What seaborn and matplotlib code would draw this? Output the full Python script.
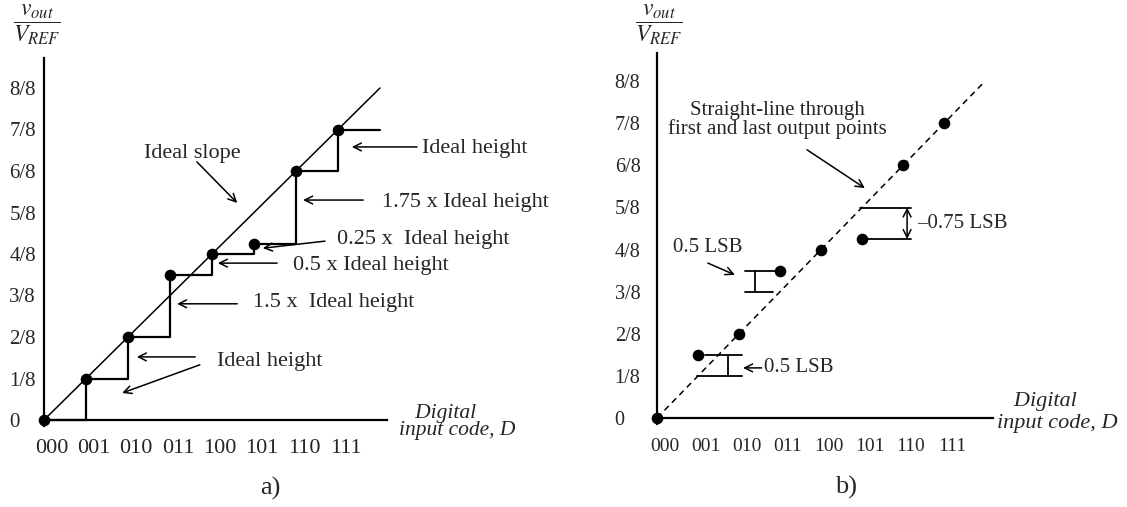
import matplotlib
matplotlib.use("Agg")
import matplotlib.pyplot as plt
import matplotlib.transforms as mtransforms
import seaborn as sns
import pandas as pd
import numpy as np

# 3-bit DAC transfer characteristics, output levels in LSB (1 LSB = VREF/8)
codes = ["000", "001", "010", "011", "100", "101", "110", "111"]
levels_a = [0, 1, 2, 3.5, 4, 4.25, 6, 7]      # panel a) staircase outputs
levels_b = [0, 1.5, 2, 3.5, 4, 4.25, 6, 7]    # panel b) output points
ytick_labels = ["0", "1/8", "2/8", "3/8", "4/8", "5/8", "6/8", "7/8", "8/8"]
full_scale = 8

sns.set_style("white")
plt.rcParams["font.family"] = ["Liberation Serif", "DejaVu Serif"]
plt.rcParams["mathtext.fontset"] = "stix"

W, H = 1127, 507
fig = plt.figure(figsize=(W / 100, H / 100), dpi=100)


def place_axes(x0_px, y0_px, sx, sy, xlim, ylim):
    """Create axes whose data origin lands at pixel (x0_px, y0_px)."""
    left = x0_px + xlim[0] * sx
    width = (xlim[1] - xlim[0]) * sx
    top = y0_px - ylim[1] * sy
    height = (ylim[1] - ylim[0]) * sy
    ax = fig.add_axes([left / W, 1 - (top + height) / H, width / W, height / H])
    ax.set_xlim(*xlim)
    ax.set_ylim(*ylim)
    ax.patch.set_alpha(0)
    return ax


def style_axes(ax, ytop, xright, ylab_pad, xlab_pad, ytick_len, xtick_len,
               ysize, xsize):
    for s in ["top", "right"]:
        ax.spines[s].set_visible(False)
    for s in ["left", "bottom"]:
        ax.spines[s].set_position(("data", 0))
        ax.spines[s].set_color("black")
        ax.spines[s].set_linewidth(1.6)
    ax.spines["left"].set_bounds(-0.15, ytop)
    ax.spines["bottom"].set_bounds(0, xright)
    ax.set_xticks(range(len(codes)))
    ax.set_xticklabels(codes)
    ax.set_yticks(range(len(ytick_labels)))
    ax.set_yticklabels(ytick_labels)
    ax.tick_params(axis="y", direction="inout", length=ytick_len, width=1.4,
                   color="black", labelsize=ysize, pad=ylab_pad)
    ax.tick_params(axis="x", direction="inout", length=xtick_len, width=1.2,
                   color="black", labelsize=xsize, pad=xlab_pad)
    for lab in ax.get_yticklabels():
        lab.set_horizontalalignment("left")
    # code labels sit slightly right of their tick marks
    shift = mtransforms.ScaledTranslation(8 / 100, 0, fig.dpi_scale_trans)
    for lab in ax.get_xticklabels():
        lab.set_transform(lab.get_transform() + shift)
    ax.set_xlabel("")
    ax.set_ylabel("")


def arrow(ax, tail, tip, style="->"):
    ax.annotate("", xy=tip, xytext=tail,
                arrowprops=dict(arrowstyle=style, lw=1.1, color="black",
                                shrinkA=0, shrinkB=0, mutation_scale=14))


ideal = pd.DataFrame({"code": [0, full_scale], "level": [0, full_scale]})

# ---------------- panel a) ----------------
TXT_A = 16
axa = place_axes(44, 420, 42, 41.5, (-1.0, 9.5), (-1.5, 10.0))
style_axes(axa, 8.72, 8.17, ylab_pad=17, xlab_pad=7, ytick_len=16,
           xtick_len=14, ysize=15, xsize=16)

pts_a = pd.DataFrame({"code": np.arange(len(codes)), "level": levels_a})
stair_a = pd.DataFrame({"code": np.arange(len(codes) + 1),
                        "level": levels_a + [levels_a[-1]]})
sns.lineplot(data=ideal, x="code", y="level", color="black", lw=1.1, ax=axa)
sns.lineplot(data=stair_a, x="code", y="level", drawstyle="steps-post",
             color="black", lw=1.6, ax=axa)
sns.scatterplot(data=pts_a, x="code", y="level", s=70, color="black",
                edgecolor="black", linewidth=0, zorder=5, ax=axa)
axa.set_xlabel("")
axa.set_ylabel("")

axa.text(3.52, 6.43, "Ideal slope", fontsize=TXT_A, ha="center", va="center")
arrow(axa, (3.64, 6.22), (4.6, 5.23))
axa.text(9.0, 6.55, "Ideal height", fontsize=TXT_A, ha="left", va="center")
arrow(axa, (8.88, 6.58), (7.33, 6.58))
axa.text(8.05, 5.25, "1.75 x Ideal height", fontsize=TXT_A, ha="left", va="center")
arrow(axa, (7.6, 5.3), (6.17, 5.3))
axa.text(6.98, 4.36, "0.25 x  Ideal height", fontsize=TXT_A, ha="left", va="center")
arrow(axa, (6.69, 4.31), (5.21, 4.14))
axa.text(5.93, 3.73, "0.5 x Ideal height", fontsize=TXT_A, ha="left", va="center")
arrow(axa, (5.55, 3.78), (4.14, 3.78))
axa.text(4.98, 2.82, "1.5 x  Ideal height", fontsize=TXT_A, ha="left", va="center")
arrow(axa, (4.6, 2.8), (3.17, 2.8))
axa.text(4.12, 1.40, "Ideal height", fontsize=TXT_A, ha="left", va="center")
arrow(axa, (3.6, 1.52), (2.21, 1.52))
arrow(axa, (3.71, 1.33), (1.86, 0.65))
axa.text(8.45, -0.05, "   Digital\ninput code, D", fontsize=15.5, style="italic",
         ha="left", va="center", linespacing=0.8)

# ---------------- panel b) ----------------
TXT_B = 15
axb = place_axes(657, 418, 41, 42.1, (-1.0, 10.5), (-1.5, 9.8))
style_axes(axb, 8.67, 8.2, ylab_pad=24, xlab_pad=9, ytick_len=13,
           xtick_len=11, ysize=14.5, xsize=14)

pts_b = pd.DataFrame({"code": np.arange(len(codes)), "level": levels_b})
sns.lineplot(data=ideal, x="code", y="level", color="black", lw=1.1,
             linestyle=(0, (4, 3)), ax=axb)
sns.scatterplot(data=pts_b, x="code", y="level", s=70, color="black",
                edgecolor="black", linewidth=0, zorder=5, ax=axb)
axb.set_xlabel("")
axb.set_ylabel("")

# error brackets measured against the end-point straight line (ideal = code)
bar_kw = dict(color="black", lw=1.3)
c = 3  # code 011: +0.5 LSB
axb.plot([c - 0.85, c - 0.12], [levels_b[c]] * 2, **bar_kw)
axb.plot([c - 0.85, c - 0.17], [c] * 2, **bar_kw)
axb.plot([c - 0.6] * 2, [c, levels_b[c]], **bar_kw)
axb.text(0.39, 4.04, "0.5 LSB", fontsize=TXT_B, ha="left", va="center")
arrow(axb, (1.24, 3.68), (1.9, 3.4))

c = 1  # code 001: +0.5 LSB
axb.plot([c + 0.17, c + 1.07], [levels_b[c]] * 2, **bar_kw)
axb.plot([c - 0.02, c + 1.07], [c] * 2, **bar_kw)
axb.plot([c + 0.73] * 2, [c, levels_b[c]], **bar_kw)
arrow(axb, (2.55, 1.19), (2.1, 1.19))
axb.text(2.6, 1.21, "0.5 LSB", fontsize=TXT_B, ha="left", va="center")

c = 5  # code 101: -0.75 LSB
axb.plot([c - 0.05, c + 1.2], [c] * 2, **bar_kw)
axb.plot([c, c + 1.2], [levels_b[c]] * 2, **bar_kw)
arrow(axb, (c + 1.1, c), (c + 1.1, levels_b[c]), style="<->")
axb.text(6.35, 4.63, "\u20130.75 LSB", fontsize=TXT_B, ha="left", va="center")

axb.text(2.93, 7.08, "Straight-line through\nfirst and last output points",
         fontsize=TXT_B, ha="center", va="center", linespacing=0.95)
arrow(axb, (3.66, 6.37), (5.07, 5.46))

axb.text(8.3, 0.13, "   Digital\ninput code, D", fontsize=16, style="italic",
         ha="left", va="center", linespacing=1.15)

# ---------------- shared labels ----------------
frac = r"$\dfrac{v_{out}}{V_{REF}}$"
fig.text(37 / W, 1 - 25 / H, frac, fontsize=17, ha="center", va="center")
fig.text(659 / W, 1 - 25 / H, frac, fontsize=17, ha="center", va="center")
fig.text(270 / W, 1 - 488 / H, "a)", fontsize=19, ha="center", va="center")
fig.text(846 / W, 1 - 487 / H, "b)", fontsize=19, ha="center", va="center")

fig.savefig("out.png", dpi=100)
